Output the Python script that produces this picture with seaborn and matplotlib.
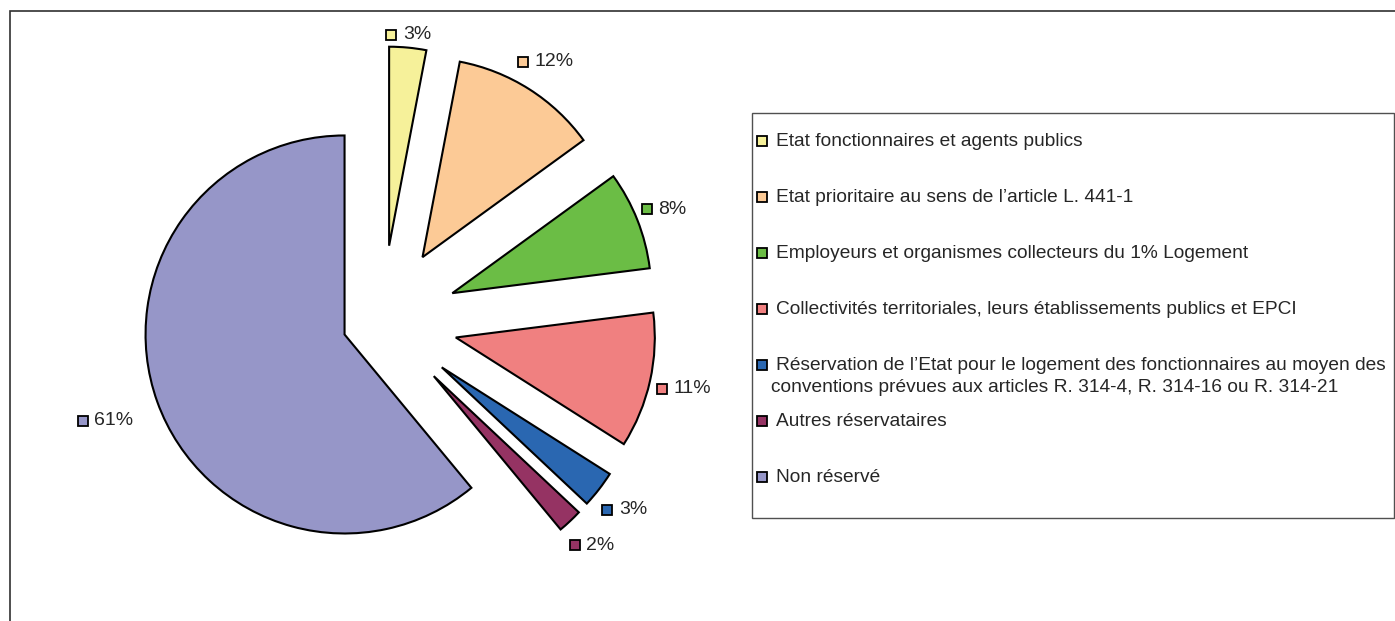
import numpy as np
import matplotlib
matplotlib.use("Agg")
import matplotlib.pyplot as plt
from matplotlib.patches import Rectangle
import seaborn as sns

# données
categories = [
    "Etat fonctionnaires et agents publics",
    "Etat prioritaire au sens de l\u2019article L. 441-1",
    "Employeurs et organismes collecteurs du 1% Logement",
    "Collectivités territoriales, leurs établissements publics et EPCI",
    "Réservation de l\u2019Etat pour le logement des fonctionnaires au moyen des\n"
    "conventions prévues aux articles R. 314-4, R. 314-16 ou R. 314-21",
    "Autres réservataires",
    "Non réservé",
]
shares = [3, 12, 8, 11, 3, 2, 61]
colors = ["#F6F19A", "#FCCA96", "#6BBD45", "#F08080", "#2A67B1", "#953363", "#9696C8"]

sns.set_style("white")
plt.rcParams['font.family'] = ['Liberation Sans', 'DejaVu Sans']

W, H = 1395, 621
R = 199
palette = sns.color_palette(colors)

fig = plt.figure(figsize=(W / 100, H / 100), dpi=100)
ax = fig.add_axes([0, 0, 1, 1])

explode = [0.38 * R] * 6 + [0.2 * R]
wedges, _ = ax.pie(shares, colors=palette, explode=explode, radius=R,
                   center=(382, H - 321), startangle=90, counterclock=False,
                   wedgeprops=dict(edgecolor='black', linewidth=1.5), frame=True)
ax.set_xlim(0, W)
ax.set_ylim(0, H)
ax.set_aspect('equal')
ax.axis('off')

# cadre extérieur
ax.add_patch(Rectangle((10, -10), W + 20, H - 11 + 10, fill=False,
                       edgecolor='#303030', linewidth=1.2, clip_on=False))

# étiquettes de données
fig.canvas.draw()
renderer = fig.canvas.get_renderer()
gaps = [2, 10, 5, 7, 10, 11, 26]
for w, v, c, g in zip(wedges, shares, palette, gaps):
    t = ax.text(0, 0, f"{v}%", fontsize=14, va='center', ha='left')
    tw = t.get_window_extent(renderer).width
    gw = 16 + tw
    mid = np.deg2rad((w.theta1 + w.theta2) / 2)
    ux, uy = np.cos(mid), np.sin(mid)
    d = R + g + abs(ux) * gw / 2 + abs(uy) * 9
    gx = w.center[0] + d * ux
    gy = w.center[1] + d * uy
    ax.plot(gx - gw / 2 + 4.5, gy, marker='s', ms=7, mfc=c, mec='black', mew=1.3)
    t.set_position((gx - gw / 2 + 16, gy))

# légende
ax.add_patch(Rectangle((752, H - 518), 642, 405, fill=False,
                       edgecolor='#505050', linewidth=1.0))
for i, (lab, c) in enumerate(zip(categories, palette)):
    y = H - (141 + 56 * i)
    ax.plot(762, y, marker='s', ms=6.5, mfc=c, mec='black', mew=1.3)
    for j, line in enumerate(lab.split('\n')):
        x = 776 if j == 0 else 771
        ax.text(x, y - 22 * j, line, fontsize=13.8, va='center', ha='left')

plt.savefig('out.png', dpi=100)
